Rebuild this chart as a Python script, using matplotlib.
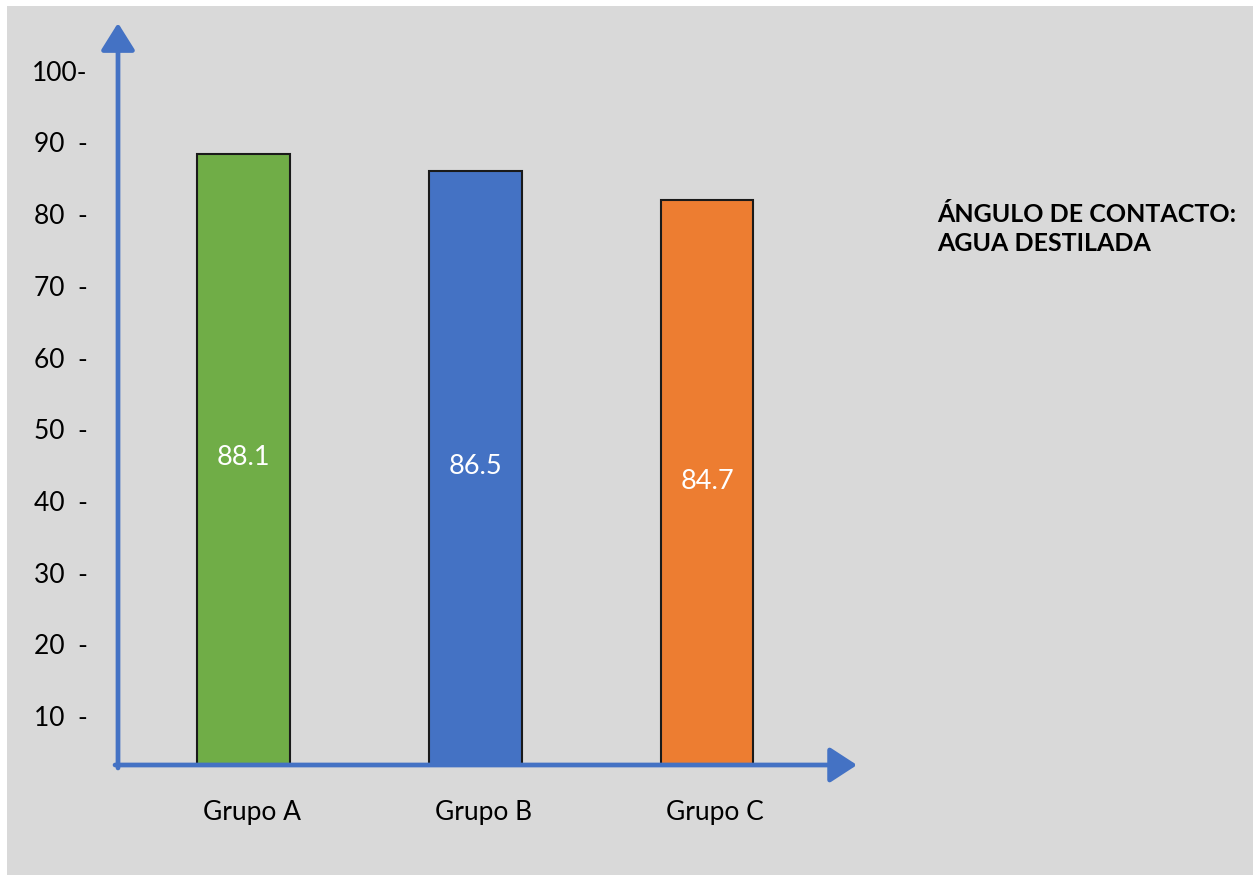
import matplotlib
matplotlib.use("Agg")
import matplotlib.pyplot as plt
from matplotlib.patches import Rectangle

# ---- data ----
categories = ["Grupo A", "Grupo B", "Grupo C"]
bar_heights = [88.4, 86.0, 81.9]          # heights as drawn in the picture
value_labels = ["88.1", "86.5", "84.7"]   # printed values
bar_colors = ["#70AD47", "#4472C4", "#ED7D31"]
ytick_values = [10, 20, 30, 40, 50, 60, 70, 80, 90, 100]
ytick_labels = ["10  -", "20  -", "30  -", "40  -", "50  -", "60  -",
                "70  -", "80  -", "90  -", "100-"]
title_lines = "ÁNGULO DE CONTACTO:\nAGUA DESTILADA"

W, H = 1253, 875
fig = plt.figure(figsize=(W / 100, H / 100), dpi=100)
fig.patch.set_facecolor("white")
fig.patches.append(Rectangle((7 / W, 0), 1 - 7 / W, (H - 6) / H,
                             transform=fig.transFigure, facecolor="#D9D9D9",
                             edgecolor="none", zorder=-10))

# axes box in pixel coords (from top): x 118..857, y 23..765
ax_left, ax_right, ax_top, ax_bottom = 118, 857, 23, 765
ax = fig.add_axes([ax_left / W, (H - ax_bottom) / H,
                   (ax_right - ax_left) / W, (ax_bottom - ax_top) / H])
ax.set_facecolor("none")
for s in ax.spines.values():
    s.set_visible(False)

x = list(range(len(categories)))
ax.bar(x, bar_heights, width=0.40, color=bar_colors, edgecolor="#1a1a1a",
       linewidth=1.5, zorder=2)

ax.set_xlim(-0.5416, 2.647)
ax.set_ylim(3.17, 106.65)

font = "Lato"
for xi, h, lab in zip(x, bar_heights, value_labels):
    ax.text(xi, (h + 3.6) / 2, lab, ha="center", va="center", color="white",
            fontsize=19.5, family=font, zorder=3)

ax.set_yticks(ytick_values)
ax.set_yticklabels(ytick_labels, fontsize=19, family=font)
ax.tick_params(axis="y", length=0, pad=22)
ax.set_xticks([xi + 0.035 for xi in x])
ax.set_xticklabels(categories, fontsize=19, family=font)
ax.tick_params(axis="x", length=0, pad=25)

axis_color = "#4472C4"
# y axis arrow
ax.annotate("", xy=(0, 1), xytext=(0, -0.004), xycoords="axes fraction",
            arrowprops=dict(arrowstyle="-|>,head_length=0.83,head_width=0.52",
                            mutation_scale=20, color=axis_color, lw=3.4,
                            shrinkA=0, shrinkB=0), annotation_clip=False)
# x axis arrow
ax.annotate("", xy=(1, 0), xytext=(-0.004, 0), xycoords="axes fraction",
            arrowprops=dict(arrowstyle="-|>,head_length=0.83,head_width=0.54",
                            mutation_scale=20, color=axis_color, lw=3.4,
                            shrinkA=0, shrinkB=0), annotation_clip=False)

fig.text(937 / W, 1 - 229 / H, title_lines, ha="left", va="center",
         fontsize=18, fontweight="bold", family=font, linespacing=1.3)

fig.savefig("out.png", dpi=100, facecolor=fig.get_facecolor())
